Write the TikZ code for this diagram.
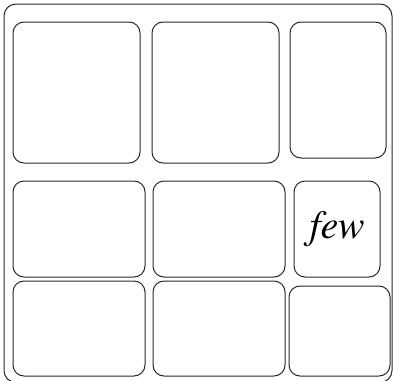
\documentclass[tikz,border=0pt]{standalone}
\usepackage[T1]{fontenc}
\usetikzlibrary{positioning}
\definecolor{gridLine}{RGB}{40,40,40}

\begin{document}
\begin{tikzpicture}[x=1pt,y=-1pt,
    cell/.style={draw=gridLine,line width=1pt,rounded corners=11pt,inner sep=0pt,outer sep=0pt}]
    \useasboundingbox (0,0) rectangle (393,380);
    \draw[gridLine,line width=1pt,rounded corners=12pt] (4,4) rectangle (392,382.5);
    \foreach \x/\y/\w/\h/\name/\txt in {
      76.5/92.5/127/141/tl/{},
      215.5/92.5/127/141/tm/{},
      338/90/96/136/tr/{},
      79/229/132/96/ml/{},
      219/229/132/96/mm/{},
      337/229/86/96/mr/{\fontfamily{ptm}\fontsize{40}{42}\selectfont\itshape few},
      79/328.5/132/95/bl/{},
      219/328.5/132/95/bm/{},
      339.5/331/101/90/br/{}} {
        \node[cell,minimum width=\w pt,minimum height=\h pt] (\name) at (\x,\y) {\txt};
    }
  \end{tikzpicture}
\end{document}
